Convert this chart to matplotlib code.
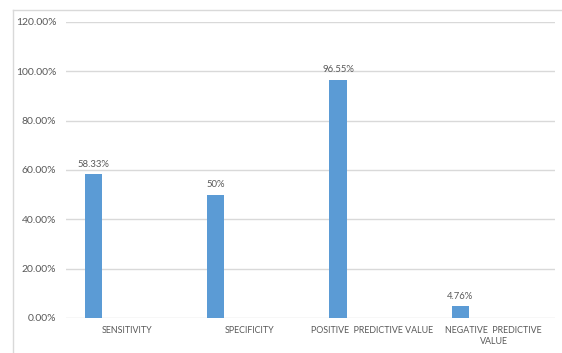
import matplotlib.pyplot as plt
from matplotlib.lines import Line2D

categories = ['SENSITIVITY', 'SPECIFICITY', 'POSITIVE  PREDICTIVE VALUE', 'NEGATIVE  PREDICTIVE\nVALUE']
values = [58.33, 50.0, 96.55, 4.76]
value_labels = ['58.33%', '50%', '96.55%', '4.76%']
yticks = [0, 20, 40, 60, 80, 100, 120]

plt.rcParams['font.family'] = ['Lato', 'DejaVu Sans']
text_color = '#595959'
grid_color = '#d9d9d9'

fig = plt.figure(figsize=(5.62, 3.53), dpi=100)
ax = fig.add_axes([0.1174, 0.0992, 0.87, 0.8385])

x = list(range(len(categories)))
bar_x = [i - 0.275 for i in x]
bars = ax.bar(bar_x, values, width=0.14, color='#5b9bd5', zorder=3)

for b, lab in zip(bars, value_labels):
    ax.annotate(lab, (b.get_x() + b.get_width() / 2, b.get_height()),
                xytext=(0, 4), textcoords='offset points',
                ha='center', va='bottom', fontsize=6.8, color=text_color)

ax.set_xlim(-0.5, len(categories) - 0.5)
ax.set_ylim(0, 120)
ax.set_yticks(yticks)
ax.set_yticklabels(['%.2f%%' % v for v in yticks])
ax.set_xticks(x)
ax.set_xticklabels(categories)
ax.tick_params(axis='both', length=0, labelcolor=text_color)
ax.tick_params(axis='y', pad=7, labelsize=7.5)
ax.tick_params(axis='x', pad=6, labelsize=6.4)
ax.yaxis.grid(True, color=grid_color, linewidth=1, zorder=0)
for s in ax.spines.values():
    s.set_visible(False)

# outer chart frame
fig.add_artist(Line2D([0.023, 0.023], [0, 0.972], transform=fig.transFigure, color=grid_color, linewidth=1))
fig.add_artist(Line2D([0.023, 1], [0.972, 0.972], transform=fig.transFigure, color=grid_color, linewidth=1))

fig.savefig('out.png', dpi=100)
